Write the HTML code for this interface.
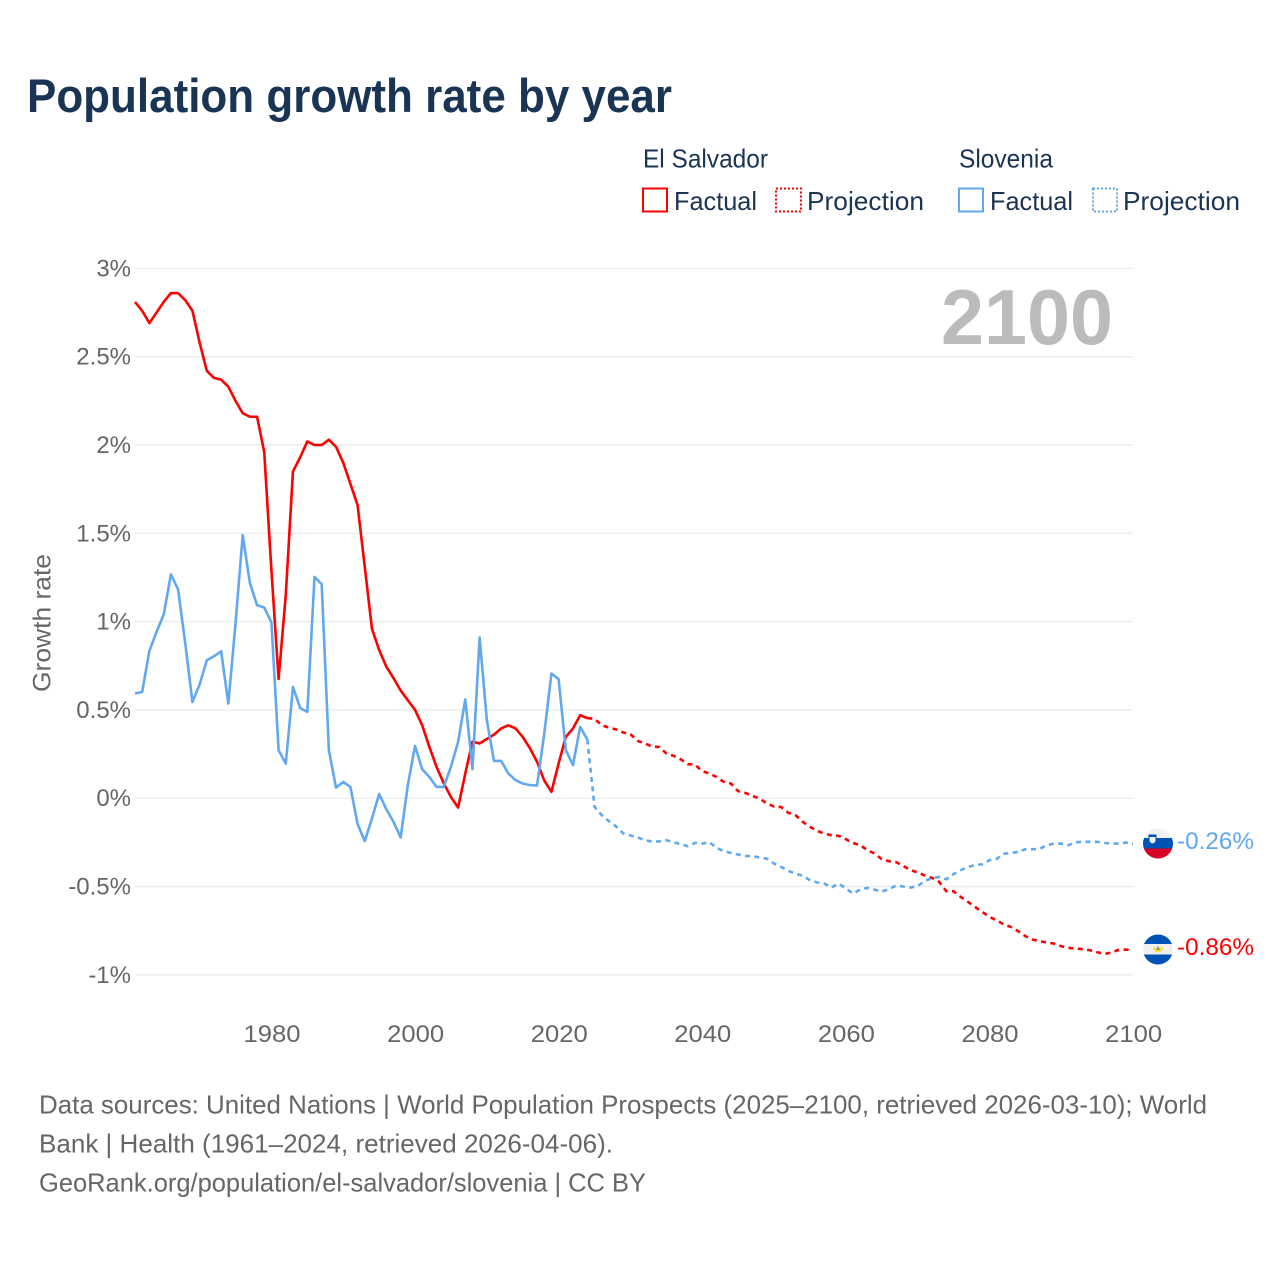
<!DOCTYPE html>
<html lang="en">
<head>
<meta charset="utf-8">
<title>Population growth rate by year</title>
<style>
  html, body { margin: 0; padding: 0; background: #fff; }
  svg { display: block; font-family: "Liberation Sans", sans-serif; }
  .gridline { stroke: #ececec; stroke-width: 1.4; }
  .tick { fill: #666; font-size: 24px; }
  .foot { fill: #666; font-size: 26px; }
  .leg { fill: #1a3454; font-size: 26px; }
</style>
</head>
<body>
<svg id="chart" width="1280" height="1280" viewBox="0 0 1280 1280" xmlns="http://www.w3.org/2000/svg">
  <rect width="1280" height="1280" fill="#fff"/>
  <text x="27" y="112" font-size="47" font-weight="700" fill="#1a3454" textLength="645" lengthAdjust="spacingAndGlyphs">Population growth rate by year</text>

  <g>
    <text class="leg" x="643" y="167.500" textLength="125" lengthAdjust="spacingAndGlyphs">El Salvador</text>
    <rect x="643" y="188.500" width="24" height="23" fill="none" stroke="#ff0000" stroke-width="2"/>
    <text class="leg" x="674" y="210" textLength="83" lengthAdjust="spacingAndGlyphs">Factual</text>
    <rect x="776" y="188.500" width="25" height="23" fill="none" stroke="#ff0000" stroke-width="2" stroke-dasharray="2 2"/>
    <text class="leg" x="807" y="210" textLength="117" lengthAdjust="spacingAndGlyphs">Projection</text>
    <text class="leg" x="959" y="167.500" textLength="94" lengthAdjust="spacingAndGlyphs">Slovenia</text>
    <rect x="959" y="188.500" width="24" height="23" fill="none" stroke="#62a8ef" stroke-width="2"/>
    <text class="leg" x="990" y="210" textLength="83" lengthAdjust="spacingAndGlyphs">Factual</text>
    <rect x="1093" y="188.500" width="24" height="23" fill="none" stroke="#62a8ef" stroke-width="2" stroke-dasharray="2 2"/>
    <text class="leg" x="1123" y="210" textLength="117" lengthAdjust="spacingAndGlyphs">Projection</text>
  </g>

  <g id="grid"></g>
  <g id="yticks"></g>
  <g id="xticks"></g>

  <text transform="translate(50.500 692) rotate(-90)" font-size="25" fill="#666" textLength="138" lengthAdjust="spacingAndGlyphs">Growth rate</text>
  <text x="941" y="344" font-size="78" font-weight="700" fill="#bbbbbb" textLength="172" lengthAdjust="spacingAndGlyphs">2100</text>

  <g id="series"></g>

  <g>
    <clipPath id="clip-si"><circle cx="1158" cy="843.500" r="15"/></clipPath>
    <g clip-path="url(#clip-si)">
      <rect x="1143" y="828" width="30" height="10.500" fill="#f0f0f0"/>
      <rect x="1143" y="838" width="30" height="11" fill="#0052b4"/>
      <rect x="1143" y="848.500" width="30" height="11" fill="#d80027"/>
      <rect x="1148.500" y="834.500" width="8" height="4" fill="#0052b4"/>
      <path d="M1149.500 837h6v3.500q0 2-3 3q-3-1-3-3z" fill="#f0f0f0"/>
    </g>
  </g>
  <g>
    <clipPath id="clip-sv"><circle cx="1158" cy="949.500" r="15"/></clipPath>
    <g clip-path="url(#clip-sv)">
      <rect x="1143" y="934" width="30" height="10.500" fill="#0052b4"/>
      <rect x="1143" y="944" width="30" height="11" fill="#f0f0f0"/>
      <rect x="1143" y="954.500" width="30" height="11" fill="#0052b4"/>
      <path d="M1154 947a4 4.200 0 0 0 8 0" fill="none" stroke="#ffda44" stroke-width="2.400"/>
      <path d="M1155.800 950l2.200-4.500l2.200 4.500z" fill="#8aa54a"/>
    </g>
  </g>

  <text x="1177" y="849" font-size="24" fill="#62a8ef" textLength="77" lengthAdjust="spacingAndGlyphs">-0.26%</text>
  <text x="1177" y="955" font-size="24" fill="#ff0000" textLength="77" lengthAdjust="spacingAndGlyphs">-0.86%</text>

  <g>
    <text class="foot" x="39" y="1113.500" textLength="1168" lengthAdjust="spacingAndGlyphs">Data sources: United Nations | World Population Prospects (2025–2100, retrieved 2026-03-10); World</text>
    <text class="foot" x="39" y="1152.500" textLength="574" lengthAdjust="spacingAndGlyphs">Bank | Health (1961–2024, retrieved 2026-04-06).</text>
    <text class="foot" x="39" y="1191.500" textLength="607" lengthAdjust="spacingAndGlyphs">GeoRank.org/population/el-salvador/slovenia | CC BY</text>
  </g>
</svg>

<script>
const factualStartYear = 1961;
const projectionStartYear = 2024;
const yTickValues = [3, 2.5, 2, 1.5, 1, 0.5, 0, -0.5, -1];
const xTickValues = [1980, 2000, 2020, 2040, 2060, 2080, 2100];

const elSalvadorFactual = [
  2.81, 2.76, 2.69, 2.75, 2.81, 2.86, 2.86, 2.82, 2.76, 2.58,
  2.42, 2.38, 2.37, 2.33, 2.25, 2.18, 2.16, 2.16, 1.96, 1.29,
  0.675, 1.15, 1.85, 1.93, 2.02, 2.00, 2.00, 2.03, 1.99, 1.90,
  1.78, 1.66, 1.31, 0.96, 0.84, 0.745, 0.68, 0.61, 0.555, 0.50,
  0.413, 0.29, 0.177, 0.085, 0.007, -0.053, 0.14, 0.32, 0.31, 0.335,
  0.36, 0.395, 0.413, 0.395, 0.347, 0.283, 0.206, 0.10, 0.036, 0.197,
  0.347, 0.395, 0.47, 0.453
];
const elSalvadorProjection = [
  0.453, 0.45, 0.413, 0.40, 0.39, 0.372, 0.362, 0.325, 0.31, 0.293,
  0.29, 0.254, 0.24, 0.22, 0.193, 0.19, 0.153, 0.14, 0.12, 0.092,
  0.083, 0.04, 0.03, 0.013, -0.002, -0.03, -0.047, -0.05, -0.083, -0.096,
  -0.134, -0.162, -0.185, -0.20, -0.21, -0.213, -0.232, -0.253, -0.266, -0.294,
  -0.313, -0.345, -0.357, -0.362, -0.383, -0.408, -0.419, -0.438, -0.451, -0.474,
  -0.527, -0.527, -0.559, -0.587, -0.616, -0.644, -0.672, -0.691, -0.715, -0.729,
  -0.753, -0.781, -0.80, -0.81, -0.817, -0.823, -0.838, -0.848, -0.851, -0.855,
  -0.861, -0.872, -0.882, -0.874, -0.859, -0.857, -0.86
];
const sloveniaFactual = [
  0.593, 0.602, 0.834, 0.942, 1.04, 1.267, 1.182, 0.876, 0.545, 0.644,
  0.781, 0.804, 0.832, 0.536, 0.989, 1.489, 1.219, 1.093, 1.08, 0.995,
  0.272, 0.196, 0.63, 0.511, 0.489, 1.253, 1.212, 0.272, 0.06, 0.092,
  0.064, -0.147, -0.243, -0.115, 0.023, -0.062, -0.134, -0.222, 0.074, 0.296,
  0.164, 0.12, 0.064, 0.064, 0.177, 0.319, 0.559, 0.164, 0.91, 0.442,
  0.211, 0.211, 0.14, 0.102, 0.083, 0.074, 0.072, 0.366, 0.706, 0.674,
  0.272, 0.187, 0.404, 0.332
];
const sloveniaProjection = [
  0.332, -0.049, -0.096, -0.13, -0.159, -0.20, -0.211, -0.222, -0.238, -0.245,
  -0.245, -0.238, -0.249, -0.26, -0.272, -0.253, -0.257, -0.249, -0.281, -0.30,
  -0.31, -0.319, -0.327, -0.328, -0.336, -0.342, -0.37, -0.389, -0.412, -0.427,
  -0.44, -0.464, -0.477, -0.483, -0.506, -0.483, -0.511, -0.54, -0.518, -0.508,
  -0.518, -0.529, -0.515, -0.495, -0.50, -0.506, -0.498, -0.468, -0.453, -0.446,
  -0.459, -0.43, -0.408, -0.389, -0.379, -0.374, -0.351, -0.344, -0.315, -0.31,
  -0.304, -0.289, -0.289, -0.287, -0.266, -0.257, -0.257, -0.266, -0.249, -0.247,
  -0.247, -0.247, -0.253, -0.257, -0.257, -0.251, -0.26
];

const NS = 'http://www.w3.org/2000/svg';
function xScale(year) { return 135 + (year - 1961) * 7.18; }
function yScale(v) { return 798.2 - v * 176.6; }
function pathFrom(values, startYear) {
  return values.map(function (v, i) {
    return (i ? 'L' : 'M') + xScale(startYear + i).toFixed(2) + ' ' + yScale(v).toFixed(2);
  }).join('');
}

const gridGroup = document.getElementById('grid');
const yGroup = document.getElementById('yticks');
yTickValues.forEach(function (v) {
  const line = document.createElementNS(NS, 'line');
  
  
  line.setAttribute('class', 'gridline');
  line.setAttribute('x1', 135);
  line.setAttribute('x2', 1133);
  line.setAttribute('y1', yScale(v));
  line.setAttribute('y2', yScale(v));
  gridGroup.appendChild(line);
  const label = document.createElementNS(NS, 'text');
  
  
  label.setAttribute('class', 'tick');
  label.setAttribute('x', 131);
  label.setAttribute('y', yScale(v) + 8);
  label.setAttribute('text-anchor', 'end');
  label.textContent = v + '%';
  yGroup.appendChild(label);
});

const xGroup = document.getElementById('xticks');
xTickValues.forEach(function (year) {
  const label = document.createElementNS(NS, 'text');
  
  
  label.setAttribute('class', 'tick');
  label.setAttribute('x', xScale(year) + 0.6);
  label.setAttribute('y', 1042);
  label.setAttribute('text-anchor', 'middle');
  label.setAttribute('textLength', 57);
  label.setAttribute('lengthAdjust', 'spacingAndGlyphs');
  label.textContent = String(year);
  xGroup.appendChild(label);
});

const seriesGroup = document.getElementById('series');
function addLine(name, values, startYear, color, dashed) {
  const p = document.createElementNS(NS, 'path');
  
  
  p.setAttribute('d', pathFrom(values, startYear));
  p.setAttribute('fill', 'none');
  p.setAttribute('stroke', color);
  p.setAttribute('stroke-width', '2.6');
  p.setAttribute('stroke-linejoin', 'round');
  if (dashed) p.setAttribute('stroke-dasharray', '5 4.4');
  seriesGroup.appendChild(p);
}
addLine('el-salvador-projection-line', elSalvadorProjection, projectionStartYear, '#ff0000', true);
addLine('el-salvador-factual-line', elSalvadorFactual, factualStartYear, '#ff0000', false);
addLine('slovenia-projection-line', sloveniaProjection, projectionStartYear, '#62a8ef', true);
addLine('slovenia-factual-line', sloveniaFactual, factualStartYear, '#62a8ef', false);
</script>
</body>
</html>
